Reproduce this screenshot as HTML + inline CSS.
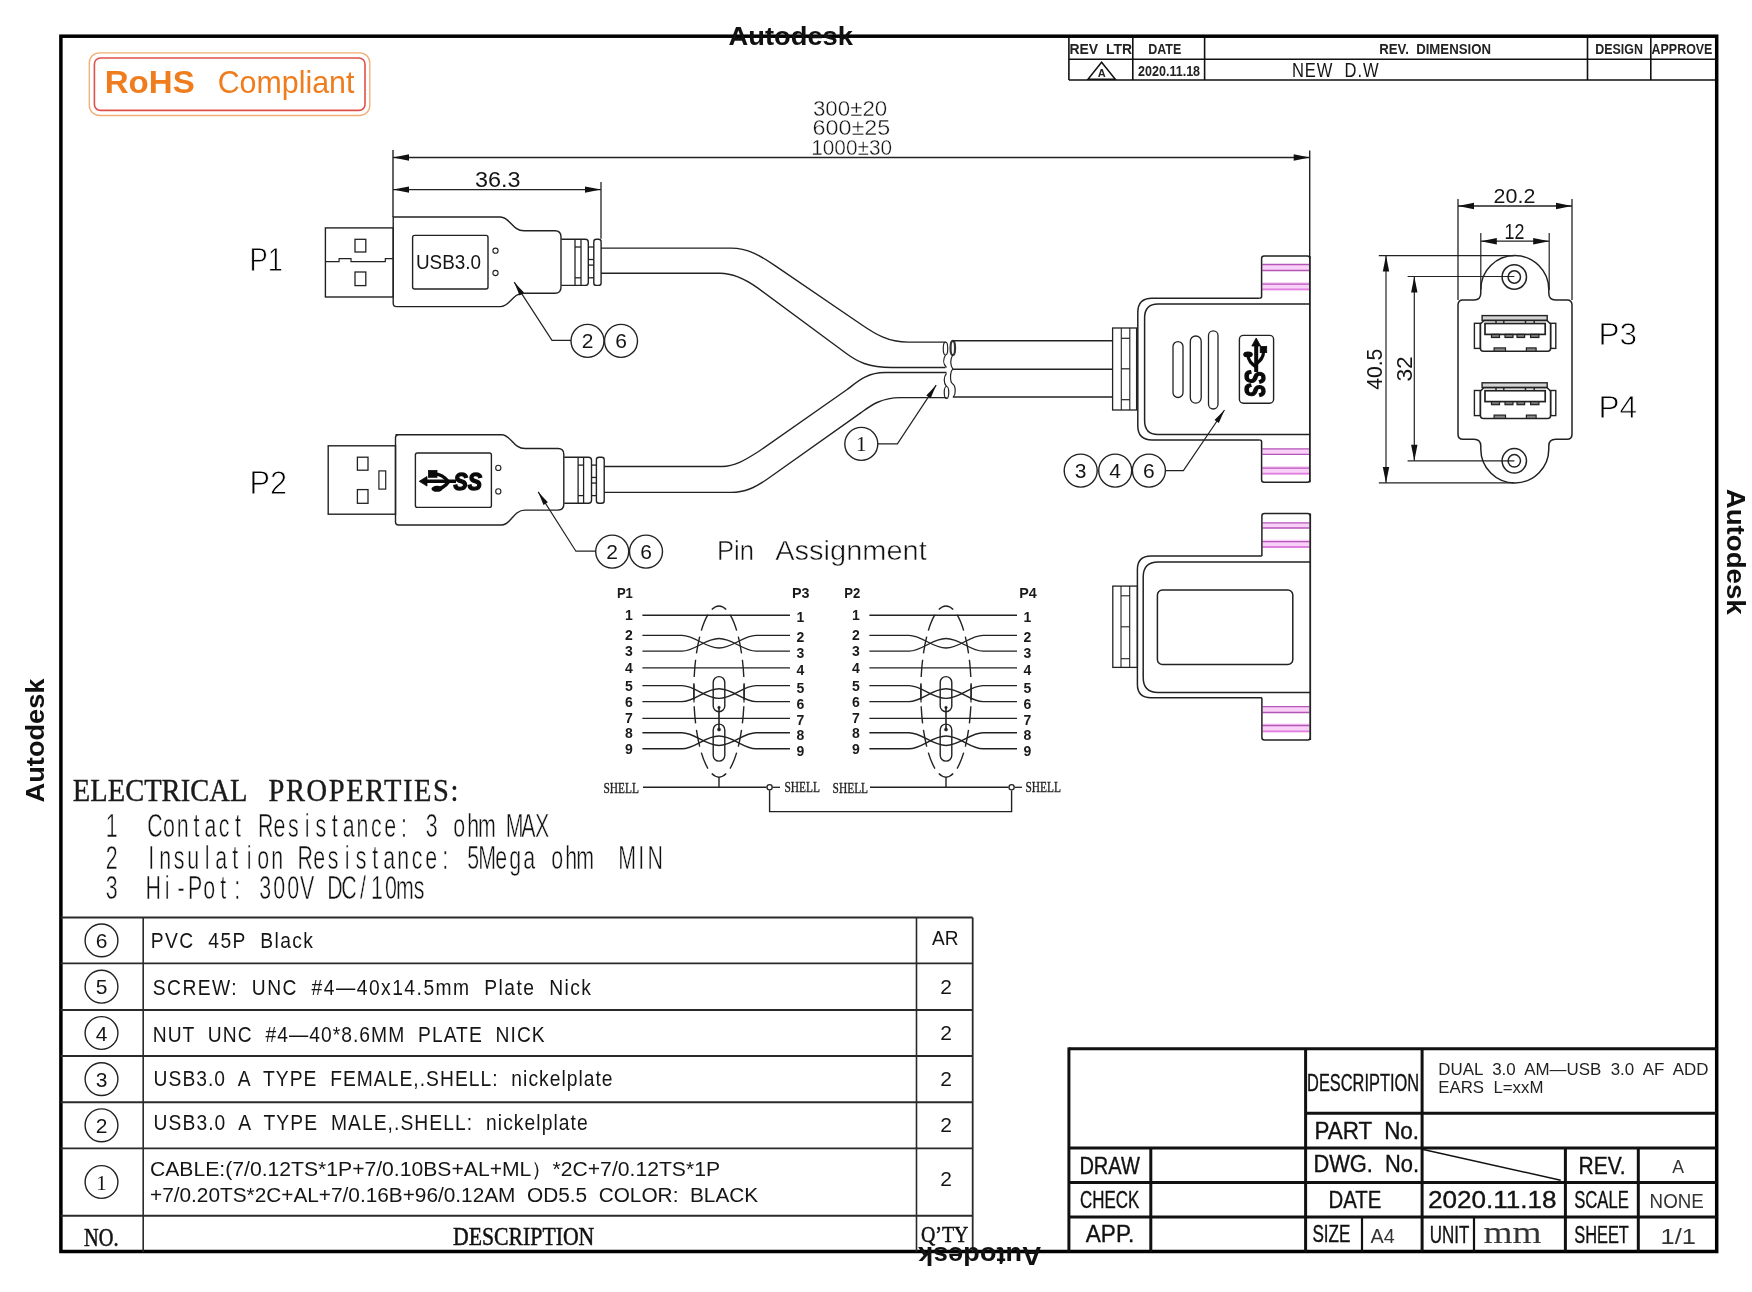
<!DOCTYPE html>
<html><head><meta charset="utf-8"><title>Drawing</title>
<style>html,body{margin:0;padding:0;background:#fff;} svg{display:block;filter:blur(0.3px);} text{white-space:pre;}</style>
</head><body>
<svg width="1752" height="1292" viewBox="0 0 1752 1292">
<rect x="0" y="0" width="1752" height="1292" fill="#fff"/>
<rect x="60.9" y="36.2" width="1655.8" height="1215.3" rx="0" stroke="#000" stroke-width="3.5" fill="none" />
<text x="728.5" y="45.4" style="font-family:&quot;Liberation Sans&quot;, sans-serif;font-size:26.7px;font-weight:bold" fill="#111" text-anchor="start" textLength="124.5" lengthAdjust="spacingAndGlyphs" >Autodesk</text>
<rect x="89.3" y="52.9" width="280.5" height="62.6" rx="10" stroke="#F2AE74" stroke-width="1.3" fill="none" />
<rect x="94.4" y="58" width="270.6" height="52.4" rx="6" stroke="#E0504A" stroke-width="1.6" fill="none" />
<text x="104.7" y="93" style="font-family:&quot;Liberation Sans&quot;, sans-serif;font-size:31.4px;font-weight:bold" fill="#EF7D1E" text-anchor="start" textLength="90" lengthAdjust="spacingAndGlyphs" >RoHS</text>
<text x="217.7" y="93" style="font-family:&quot;Liberation Sans&quot;, sans-serif;font-size:31.4px;font-weight:normal" fill="#EF7D1E" text-anchor="start" textLength="136.7" lengthAdjust="spacingAndGlyphs" >Compliant</text>
<line x1="1068.9" y1="37.3" x2="1068.9" y2="80" stroke="#111" stroke-width="1.6" />
<line x1="1132.8" y1="37.3" x2="1132.8" y2="80" stroke="#111" stroke-width="1.6" />
<line x1="1204.6" y1="37.3" x2="1204.6" y2="80" stroke="#111" stroke-width="1.6" />
<line x1="1587.5" y1="37.3" x2="1587.5" y2="80" stroke="#111" stroke-width="1.6" />
<line x1="1650.8" y1="37.3" x2="1650.8" y2="80" stroke="#111" stroke-width="1.6" />
<line x1="1068.9" y1="59.3" x2="1716.8" y2="59.3" stroke="#111" stroke-width="1.5" />
<line x1="1068.9" y1="80" x2="1716.8" y2="80" stroke="#111" stroke-width="1.6" />
<text x="1069.5" y="54" style="font-family:&quot;Liberation Sans&quot;, sans-serif;font-size:13.8px;font-weight:bold" fill="#222" text-anchor="start" textLength="62.5" lengthAdjust="spacingAndGlyphs" >REV  LTR</text>
<text x="1148.3" y="54" style="font-family:&quot;Liberation Sans&quot;, sans-serif;font-size:13.8px;font-weight:bold" fill="#222" text-anchor="start" textLength="33" lengthAdjust="spacingAndGlyphs" >DATE</text>
<text x="1379.2" y="53.6" style="font-family:&quot;Liberation Sans&quot;, sans-serif;font-size:13.8px;font-weight:bold" fill="#222" text-anchor="start" textLength="111.8" lengthAdjust="spacingAndGlyphs" >REV.  DIMENSION</text>
<text x="1595.3" y="53.6" style="font-family:&quot;Liberation Sans&quot;, sans-serif;font-size:13.8px;font-weight:bold" fill="#222" text-anchor="start" textLength="47.7" lengthAdjust="spacingAndGlyphs" >DESIGN</text>
<text x="1651.6" y="53.6" style="font-family:&quot;Liberation Sans&quot;, sans-serif;font-size:13.8px;font-weight:bold" fill="#222" text-anchor="start" textLength="60.8" lengthAdjust="spacingAndGlyphs" >APPROVE</text>
<path d="M1088,79.3 L1101.6,62.3 L1115.3,79.3 Z" stroke="#111" stroke-width="1.5" fill="none" />
<text x="1101.8" y="76.8" style="font-family:&quot;Liberation Sans&quot;, sans-serif;font-size:11px;font-weight:bold" fill="#222" text-anchor="middle" >A</text>
<text x="1138" y="75.8" style="font-family:&quot;Liberation Sans&quot;, sans-serif;font-size:13.8px;font-weight:bold" fill="#222" text-anchor="start" textLength="62.1" lengthAdjust="spacingAndGlyphs" >2020.11.18</text>
<text x="0" y="0" transform="translate(1291.9,76.6) scale(0.85,1)" style="font-family:&quot;Liberation Sans&quot;, sans-serif;font-size:19.5px;font-weight:normal" fill="#151515" textLength="102.00" lengthAdjust="spacing" >NEW  D.W</text>
<line x1="393" y1="157.5" x2="1309.7" y2="157.5" stroke="#222" stroke-width="1.3" />
<path d="M393.0,157.5 L409.0,154.3 L409.0,160.7 Z" fill="#111" stroke="none"/>
<path d="M1309.7,157.5 L1293.7,160.7 L1293.7,154.3 Z" fill="#111" stroke="none"/>
<line x1="393" y1="150" x2="393" y2="217" stroke="#222" stroke-width="1.4" />
<line x1="1309.7" y1="150.6" x2="1309.7" y2="256" stroke="#222" stroke-width="1.4" />
<line x1="393" y1="189.6" x2="601" y2="189.6" stroke="#222" stroke-width="1.3" />
<path d="M393.0,189.6 L409.0,186.4 L409.0,192.8 Z" fill="#111" stroke="none"/>
<path d="M601.0,189.6 L585.0,192.8 L585.0,186.4 Z" fill="#111" stroke="none"/>
<line x1="601" y1="182" x2="601" y2="238.8" stroke="#222" stroke-width="1.3" />
<text x="812.9" y="115.7" style="font-family:&quot;Liberation Sans&quot;, sans-serif;font-size:22px;font-weight:normal" fill="#151515" text-anchor="start" textLength="74.4" lengthAdjust="spacingAndGlyphs" stroke="#fff" stroke-width="0.4">300±20</text>
<text x="812.6" y="135.2" style="font-family:&quot;Liberation Sans&quot;, sans-serif;font-size:22px;font-weight:normal" fill="#151515" text-anchor="start" textLength="77.7" lengthAdjust="spacingAndGlyphs" stroke="#fff" stroke-width="0.4">600±25</text>
<text x="811.2" y="154.7" style="font-family:&quot;Liberation Sans&quot;, sans-serif;font-size:22px;font-weight:normal" fill="#151515" text-anchor="start" textLength="80.9" lengthAdjust="spacingAndGlyphs" stroke="#fff" stroke-width="0.4">1000±30</text>
<text x="475" y="187.2" style="font-family:&quot;Liberation Sans&quot;, sans-serif;font-size:22.5px;font-weight:normal" fill="#151515" text-anchor="start" textLength="45.5" lengthAdjust="spacingAndGlyphs" >36.3</text>
<text x="249.4" y="271.4" style="font-family:&quot;Liberation Sans&quot;, sans-serif;font-size:32.5px;font-weight:normal" fill="#000" text-anchor="start" textLength="33.5" lengthAdjust="spacingAndGlyphs" stroke="#fff" stroke-width="0.8">P1</text>
<rect x="325.4" y="227.9" width="67.8" height="69.1" rx="0" stroke="#222" stroke-width="1.4" fill="none" />
<path d="M325.4,261.6 L339.1,261.6 L339.1,258.7 L351,258.7 L351,261.6 L385.3,261.6 L385.3,258.7 L393.2,258.7" stroke="#222" stroke-width="1.2" fill="none" />
<rect x="355" y="239.3" width="10.8" height="12.7" rx="0" stroke="#222" stroke-width="1.3" fill="none" />
<rect x="355" y="272" width="10.8" height="13.6" rx="0" stroke="#222" stroke-width="1.3" fill="none" />
<path d="M393.2,217 L500.5,217 C510,217 512,230.8 524,230.8 L555,230.8 Q561,230.8 561,237 L561,287 Q561,293.2 555,293.2 L524,293.2 C512,293.2 510,306.6 500.5,306.6 L396.5,306.6 Q393.2,306.6 393.2,303.3 Z" stroke="#222" stroke-width="1.4" fill="none" />
<rect x="412.6" y="235.4" width="75.4" height="53.6" rx="2" stroke="#222" stroke-width="1.4" fill="none" />
<text x="416" y="268.5" style="font-family:&quot;Liberation Sans&quot;, sans-serif;font-size:20px;font-weight:normal" fill="#151515" text-anchor="start" textLength="65" lengthAdjust="spacingAndGlyphs" >USB3.0</text>
<circle cx="495.5" cy="250.7" r="2.6" stroke="#222" stroke-width="1.1" fill="none" />
<circle cx="495.5" cy="273" r="2.6" stroke="#222" stroke-width="1.1" fill="none" />
<path d="M561.3,239.2 L585.3,239.2 Q588.3,239.2 588.3,242.2 L588.3,282.4 Q588.3,285.4 585.3,285.4 L561.3,285.4" stroke="#222" stroke-width="1.4" fill="none" />
<line x1="575" y1="239.2" x2="575" y2="285.4" stroke="#222" stroke-width="1.3" />
<line x1="581" y1="239.2" x2="581" y2="285.4" stroke="#222" stroke-width="1.3" />
<line x1="575" y1="247.0" x2="581" y2="247.0" stroke="#222" stroke-width="1.3" />
<line x1="575" y1="277.79999999999995" x2="581" y2="277.79999999999995" stroke="#222" stroke-width="1.3" />
<line x1="588.3" y1="247.0" x2="593.8" y2="247.0" stroke="#222" stroke-width="1.3" />
<line x1="588.3" y1="259.49999999999994" x2="593.8" y2="259.49999999999994" stroke="#222" stroke-width="1.3" />
<line x1="588.3" y1="265.09999999999997" x2="593.8" y2="265.09999999999997" stroke="#222" stroke-width="1.3" />
<line x1="588.3" y1="277.79999999999995" x2="593.8" y2="277.79999999999995" stroke="#222" stroke-width="1.3" />
<rect x="593.8" y="239.2" width="7.300000000000068" height="46.19999999999999" rx="2.5" stroke="#222" stroke-width="1.4" fill="none" />
<path d="M514.2,282.2 L552,340.4 L571,340.4" stroke="#222" stroke-width="1.2" fill="none" />
<path d="M514.2,282.2 L524.0,292.5 L519.6,295.4 Z" fill="#111" stroke="none"/>
<circle cx="587.5" cy="340.9" r="16.5" stroke="#222" stroke-width="1.4" fill="none" />
<text x="587.5" y="348.46" style="font-family:&quot;Liberation Sans&quot;, sans-serif;font-size:21px;font-weight:normal" fill="#151515" text-anchor="middle" >2</text>
<circle cx="621" cy="340.9" r="16.5" stroke="#222" stroke-width="1.4" fill="none" />
<text x="621" y="348.46" style="font-family:&quot;Liberation Sans&quot;, sans-serif;font-size:21px;font-weight:normal" fill="#151515" text-anchor="middle" >6</text>
<text x="249.4" y="494.2" style="font-family:&quot;Liberation Sans&quot;, sans-serif;font-size:32.5px;font-weight:normal" fill="#000" text-anchor="start" textLength="37.6" lengthAdjust="spacingAndGlyphs" stroke="#fff" stroke-width="0.8">P2</text>
<rect x="328.2" y="445.8" width="67.3" height="68.4" rx="0" stroke="#222" stroke-width="1.4" fill="none" />
<rect x="357.4" y="457.2" width="10.6" height="13" rx="0" stroke="#222" stroke-width="1.3" fill="none" />
<rect x="357.4" y="489.6" width="10.6" height="13.7" rx="0" stroke="#222" stroke-width="1.3" fill="none" />
<rect x="378.9" y="470.9" width="6.8" height="18.2" rx="0" stroke="#222" stroke-width="1.2" fill="none" />
<path d="M395.5,434.8 L501.7,434.8 C511,434.8 513,448.5 525,448.5 L558,448.5 Q563.8,448.5 563.8,454.3 L563.8,504.3 Q563.8,510.1 558,510.1 L525,510.1 C513,510.1 511,525 501.7,525 L398.5,525 Q395.5,525 395.5,522 L395.5,437.8 Q395.5,434.8 398.5,434.8 Z" stroke="#222" stroke-width="1.4" fill="none" />
<rect x="415.4" y="453" width="76" height="54.4" rx="2" stroke="#222" stroke-width="1.4" fill="none" />
<path d="M423,481.3 L456,481.3" stroke="#0a0a0a" stroke-width="3.4" fill="none" />
<path d="M419.2,481.3 L427,476.5 L427,486.1 Z" stroke="#0a0a0a" stroke-width="0.8" fill="#0a0a0a" />
<path d="M448,481.3 C444,476 440,473.8 434,473.8" stroke="#0a0a0a" stroke-width="3.2" fill="none" />
<rect x="428.5" y="470.5" width="8.5" height="6.8" rx="0" stroke="#0a0a0a" stroke-width="0.8" fill="#0a0a0a" />
<path d="M449,481.3 C445,487 441,489 436,489" stroke="#0a0a0a" stroke-width="3.4" fill="none" />
<ellipse cx="437" cy="488.8" rx="5.5" ry="3" fill="#0a0a0a"/>
<text x="453.5" y="489.6" style="font-family:&quot;Liberation Sans&quot;, sans-serif;font-size:23px;font-weight:bold" fill="#0a0a0a" text-anchor="start" textLength="28.5" lengthAdjust="spacingAndGlyphs" font-style="italic" stroke="#0a0a0a" stroke-width="1.4">SS</text>
<circle cx="498.3" cy="467.9" r="2.6" stroke="#222" stroke-width="1.1" fill="none" />
<circle cx="498.3" cy="491.4" r="2.6" stroke="#222" stroke-width="1.1" fill="none" />
<path d="M564.2,457.3 L588.5,457.3 Q591.5,457.3 591.5,460.3 L591.5,500.2 Q591.5,503.2 588.5,503.2 L564.2,503.2" stroke="#222" stroke-width="1.4" fill="none" />
<line x1="578.1" y1="457.3" x2="578.1" y2="503.2" stroke="#222" stroke-width="1.3" />
<line x1="583.6" y1="457.3" x2="583.6" y2="503.2" stroke="#222" stroke-width="1.3" />
<line x1="578.1" y1="465.1" x2="583.6" y2="465.1" stroke="#222" stroke-width="1.3" />
<line x1="578.1" y1="495.59999999999997" x2="583.6" y2="495.59999999999997" stroke="#222" stroke-width="1.3" />
<line x1="591.5" y1="465.1" x2="596.4" y2="465.1" stroke="#222" stroke-width="1.3" />
<line x1="591.5" y1="477.45" x2="596.4" y2="477.45" stroke="#222" stroke-width="1.3" />
<line x1="591.5" y1="483.05" x2="596.4" y2="483.05" stroke="#222" stroke-width="1.3" />
<line x1="591.5" y1="495.59999999999997" x2="596.4" y2="495.59999999999997" stroke="#222" stroke-width="1.3" />
<rect x="596.4" y="457.3" width="7.800000000000068" height="45.89999999999998" rx="2.5" stroke="#222" stroke-width="1.4" fill="none" />
<path d="M538.2,491.9 L575.9,551.2 L595.5,551.2" stroke="#222" stroke-width="1.2" fill="none" />
<path d="M538.2,491.9 L547.9,502.3 L543.5,505.1 Z" fill="#111" stroke="none"/>
<circle cx="612.2" cy="551.6" r="16.5" stroke="#222" stroke-width="1.4" fill="none" />
<text x="612.2" y="559.16" style="font-family:&quot;Liberation Sans&quot;, sans-serif;font-size:21px;font-weight:normal" fill="#151515" text-anchor="middle" >2</text>
<circle cx="646" cy="551.6" r="16.5" stroke="#222" stroke-width="1.4" fill="none" />
<text x="646" y="559.16" style="font-family:&quot;Liberation Sans&quot;, sans-serif;font-size:21px;font-weight:normal" fill="#151515" text-anchor="middle" >6</text>
<path d="M601,248.1 L731,248.1 C748,248.1 760,255.4 775,265.6 L862,325 C875,333.9 888,342.1 908,342.1 L945.5,342.1" stroke="#222" stroke-width="1.4" fill="none" />
<path d="M601,273.3 L720,273.3 C733,273.3 745,279 757.6,287.9 L846.7,353.8 C857,361.4 868,367.5 892,367.5 L945.5,367.5" stroke="#222" stroke-width="1.4" fill="none" />
<path d="M604,466.5 L722,466.5 C735,466.5 745,460 758.6,451.5 L846.8,389.7 C855,384 865,372.5 885,372.5 L946.5,372.5" stroke="#222" stroke-width="1.4" fill="none" />
<path d="M604,492.4 L731,492.4 C745,492.4 755,487.5 766,480 L860.7,412.9 C869,407 880,397.6 900,397.6 L946.5,397.6" stroke="#222" stroke-width="1.4" fill="none" />
<path d="M877.8,443.9 L897.4,443.9 L936.2,385.1" stroke="#222" stroke-width="1.2" fill="none" />
<path d="M936.2,385.1 L930.7,398.2 L926.3,395.4 Z" fill="#111" stroke="none"/>
<circle cx="861.3" cy="443.9" r="16.5" stroke="#222" stroke-width="1.4" fill="none" />
<text x="861.3" y="451.46" style="font-family:&quot;Liberation Serif&quot;, serif;font-size:21px;font-weight:normal" fill="#151515" text-anchor="middle" >1</text>
<path d="M945.5,342.1 C948.5,342.1 948.5,355 945.5,355 C942.5,355 942.5,342.1 945.5,342.1 M945.5,355 C943,359 943,364 946.5,367.5" stroke="#222" stroke-width="1.2" fill="none" />
<path d="M946.5,373.4 C943.5,377 943.5,383 946.5,386.5 C949.5,386.5 949.5,398.4 946.5,398.4 C943.5,398.4 943.5,386.5 946.5,386.5" stroke="#222" stroke-width="1.2" fill="none" />
<path d="M952.8,340.8 C955.8,340.8 955.8,355 952.8,355 C949.8,355 949.8,340.8 952.8,340.8" stroke="#333" stroke-width="2.2" fill="none" />
<path d="M952.8,355 C950,359 950,365 953,369.3 C950,371 949.5,382 952.8,384 C955.8,386 956,394 953.5,396.9" stroke="#222" stroke-width="1.2" fill="none" />
<line x1="952.8" y1="340.7" x2="1112.6" y2="340.7" stroke="#222" stroke-width="1.4" />
<line x1="952.8" y1="369.2" x2="1112.6" y2="369.2" stroke="#222" stroke-width="1.4" />
<line x1="952.8" y1="397" x2="1112.6" y2="397" stroke="#222" stroke-width="1.4" />
<rect x="1112.6" y="328" width="24" height="82" rx="0" stroke="#222" stroke-width="1.3" fill="none" />
<line x1="1121.3" y1="328" x2="1121.3" y2="410" stroke="#222" stroke-width="1.1" />
<line x1="1129.8" y1="328" x2="1129.8" y2="410" stroke="#222" stroke-width="1.1" />
<line x1="1121.3" y1="338.3" x2="1129.8" y2="338.3" stroke="#222" stroke-width="1.2" />
<line x1="1121.3" y1="368.8" x2="1129.8" y2="368.8" stroke="#222" stroke-width="1.2" />
<line x1="1121.3" y1="399.7" x2="1129.8" y2="399.7" stroke="#222" stroke-width="1.2" />
<rect x="1262.3" y="264.5" width="47.200000000000045" height="6.0" fill="#F9D0F7"/>
<rect x="1262.3" y="282.1" width="47.200000000000045" height="8.299999999999955" fill="#F9D0F7"/>
<line x1="1262.3" y1="264.5" x2="1309.5" y2="264.5" stroke="#B455B8" stroke-width="1.3" />
<line x1="1262.3" y1="270.5" x2="1309.5" y2="270.5" stroke="#B455B8" stroke-width="1.3" />
<line x1="1262.3" y1="284.1" x2="1309.5" y2="284.1" stroke="#B455B8" stroke-width="1.3" />
<line x1="1262.3" y1="289.4" x2="1309.5" y2="289.4" stroke="#E07FE0" stroke-width="1.8" />
<rect x="1262.3" y="448.8" width="47.200000000000045" height="5.599999999999966" fill="#F9D0F7"/>
<rect x="1262.3" y="466.1" width="47.200000000000045" height="8.599999999999966" fill="#F9D0F7"/>
<line x1="1262.3" y1="448.8" x2="1309.5" y2="448.8" stroke="#B455B8" stroke-width="1.3" />
<line x1="1262.3" y1="454.4" x2="1309.5" y2="454.4" stroke="#B455B8" stroke-width="1.3" />
<line x1="1262.3" y1="468.1" x2="1309.5" y2="468.1" stroke="#B455B8" stroke-width="1.3" />
<line x1="1262.3" y1="473.7" x2="1309.5" y2="473.7" stroke="#E07FE0" stroke-width="1.8" />
<path d="M1259.6,298.2 Q1261.6,298.2 1261.6,296.2 L1261.6,258.5 Q1261.6,256 1264.1,256 L1307.4,256 Q1309.9,256 1309.9,258.5" stroke="#222" stroke-width="1.5" fill="none" />
<path d="M1259.6,440 Q1261.6,440 1261.6,442 L1261.6,479.8 Q1261.6,482.3 1264.1,482.3 L1307.4,482.3 Q1309.9,482.3 1309.9,479.8" stroke="#222" stroke-width="1.5" fill="none" />
<path d="M1259.6,298.2 L1152,298.2 Q1137.8,298.2 1137.8,312.4 L1137.8,425.8 Q1137.8,440 1152,440 L1259.6,440" stroke="#222" stroke-width="1.5" fill="none" />
<line x1="1309.9" y1="256" x2="1309.9" y2="482.3" stroke="#222" stroke-width="1.8" />
<path d="M1309.9,304 L1158,304 Q1144.6,304 1144.6,318 L1144.6,420.4 Q1144.6,434.4 1158,434.4 L1309.9,434.4" stroke="#222" stroke-width="1.5" fill="none" />
<rect x="1173" y="341.6" width="10" height="55.9" rx="5" stroke="#222" stroke-width="1.3" fill="none" />
<rect x="1190.3" y="336" width="10.9" height="67.2" rx="5.4" stroke="#222" stroke-width="1.3" fill="none" />
<rect x="1208.5" y="330.9" width="9.5" height="78.1" rx="4.7" stroke="#222" stroke-width="1.3" fill="none" />
<rect x="1239.4" y="335.4" width="34.2" height="67.8" rx="4" stroke="#222" stroke-width="1.4" fill="none" />
<path d="M1256.2,343 L1256.2,372" stroke="#0a0a0a" stroke-width="4" fill="none" />
<path d="M1256.2,338 L1251.8,346 L1260.6,346 Z" stroke="#0a0a0a" stroke-width="0.8" fill="#0a0a0a" />
<rect x="1260.2" y="346.4" width="6.5" height="6.2" rx="0" stroke="#0a0a0a" stroke-width="0.8" fill="#0a0a0a" />
<path d="M1263.5,352 C1263.5,358 1260,361 1256.2,364" stroke="#0a0a0a" stroke-width="3.2" fill="none" />
<ellipse cx="1248" cy="354.5" rx="4.8" ry="3" fill="#0a0a0a"/>
<path d="M1248,355 C1248,361 1252,364 1256.2,367" stroke="#0a0a0a" stroke-width="3.2" fill="none" />
<text x="0" y="0" transform="translate(1245.3,370.3) rotate(90)" style="font-family:&quot;Liberation Sans&quot;;font-size:29px;font-weight:bold;font-style:italic" fill="#0a0a0a" stroke="#0a0a0a" stroke-width="1.4" textLength="26.6" lengthAdjust="spacingAndGlyphs">SS</text>
<path d="M1224.5,410 L1183.4,470.6 L1165,470.6" stroke="#222" stroke-width="1.2" fill="none" />
<path d="M1224.5,410.0 L1218.8,423.0 L1214.5,420.1 Z" fill="#111" stroke="none"/>
<circle cx="1080.7" cy="470.6" r="16.5" stroke="#222" stroke-width="1.4" fill="none" />
<text x="1080.7" y="478.16" style="font-family:&quot;Liberation Sans&quot;, sans-serif;font-size:21px;font-weight:normal" fill="#151515" text-anchor="middle" >3</text>
<circle cx="1115.2" cy="470.6" r="16.5" stroke="#222" stroke-width="1.4" fill="none" />
<text x="1115.2" y="478.16" style="font-family:&quot;Liberation Sans&quot;, sans-serif;font-size:21px;font-weight:normal" fill="#151515" text-anchor="middle" >4</text>
<circle cx="1148.9" cy="470.6" r="16.5" stroke="#222" stroke-width="1.4" fill="none" />
<text x="1148.9" y="478.16" style="font-family:&quot;Liberation Sans&quot;, sans-serif;font-size:21px;font-weight:normal" fill="#151515" text-anchor="middle" >6</text>
<rect x="1112.8" y="586.1" width="24.6" height="81.3" rx="0" stroke="#222" stroke-width="1.3" fill="none" />
<line x1="1121" y1="586.1" x2="1121" y2="667.4" stroke="#222" stroke-width="1.1" />
<line x1="1129.7" y1="586.1" x2="1129.7" y2="667.4" stroke="#222" stroke-width="1.1" />
<line x1="1121" y1="595.8" x2="1129.7" y2="595.8" stroke="#222" stroke-width="1.1" />
<line x1="1121" y1="626.8" x2="1129.7" y2="626.8" stroke="#222" stroke-width="1.1" />
<line x1="1121" y1="658.7" x2="1129.7" y2="658.7" stroke="#222" stroke-width="1.1" />
<rect x="1262.5" y="522.8" width="47.0" height="5.2000000000000455" fill="#F9D0F7"/>
<rect x="1262.5" y="539.6" width="47.0" height="8.399999999999977" fill="#F9D0F7"/>
<line x1="1262.5" y1="522.8" x2="1309.5" y2="522.8" stroke="#B455B8" stroke-width="1.3" />
<line x1="1262.5" y1="528" x2="1309.5" y2="528" stroke="#B455B8" stroke-width="1.3" />
<line x1="1262.5" y1="541.6" x2="1309.5" y2="541.6" stroke="#B455B8" stroke-width="1.3" />
<line x1="1262.5" y1="547" x2="1309.5" y2="547" stroke="#E07FE0" stroke-width="1.8" />
<rect x="1262.5" y="706.7" width="47.0" height="5.7999999999999545" fill="#F9D0F7"/>
<rect x="1262.5" y="723.5" width="47.0" height="8.799999999999955" fill="#F9D0F7"/>
<line x1="1262.5" y1="706.7" x2="1309.5" y2="706.7" stroke="#B455B8" stroke-width="1.3" />
<line x1="1262.5" y1="712.5" x2="1309.5" y2="712.5" stroke="#B455B8" stroke-width="1.3" />
<line x1="1262.5" y1="725.5" x2="1309.5" y2="725.5" stroke="#B455B8" stroke-width="1.3" />
<line x1="1262.5" y1="731.3" x2="1309.5" y2="731.3" stroke="#E07FE0" stroke-width="1.8" />
<path d="M1261.9,556.1 L1151,556.1 Q1137.4,556.1 1137.4,569.6 L1137.4,684.3 Q1137.4,697.8 1151,697.8 L1261.9,697.8" stroke="#222" stroke-width="1.5" fill="none" />
<path d="M1261.9,556.1 L1261.9,516 Q1261.9,513.5 1264.4,513.5 L1307.7,513.5 Q1310.2,513.5 1310.2,516" stroke="#222" stroke-width="1.5" fill="none" />
<path d="M1261.9,697.8 L1261.9,737.5 Q1261.9,740 1264.4,740 L1307.7,740 Q1310.2,740 1310.2,737.5" stroke="#222" stroke-width="1.5" fill="none" />
<line x1="1310.2" y1="513.5" x2="1310.2" y2="740" stroke="#222" stroke-width="1.8" />
<path d="M1310.2,562 L1158,562 Q1143.2,562 1143.2,577 L1143.2,677.6 Q1143.2,692.6 1158,692.6 L1310.2,692.6" stroke="#222" stroke-width="1.5" fill="none" />
<rect x="1157.4" y="590" width="135.4" height="74.5" rx="5" stroke="#222" stroke-width="1.5" fill="none" />
<line x1="1458" y1="206" x2="1572" y2="206" stroke="#222" stroke-width="1.3" />
<path d="M1458.0,206.0 L1474.0,202.8 L1474.0,209.2 Z" fill="#111" stroke="none"/>
<path d="M1572.0,206.0 L1556.0,209.2 L1556.0,202.8 Z" fill="#111" stroke="none"/>
<line x1="1458" y1="199" x2="1458" y2="300" stroke="#222" stroke-width="1.3" />
<line x1="1572" y1="199" x2="1572" y2="300" stroke="#222" stroke-width="1.3" />
<text x="1493.6" y="203.4" style="font-family:&quot;Liberation Sans&quot;, sans-serif;font-size:21px;font-weight:normal" fill="#151515" text-anchor="start" textLength="41.7" lengthAdjust="spacingAndGlyphs" >20.2</text>
<line x1="1480.8" y1="241.2" x2="1549.2" y2="241.2" stroke="#222" stroke-width="1.2" />
<path d="M1480.8,241.2 L1496.8,238.0 L1496.8,244.4 Z" fill="#111" stroke="none"/>
<path d="M1549.2,241.2 L1533.2,244.4 L1533.2,238.0 Z" fill="#111" stroke="none"/>
<line x1="1480.8" y1="233" x2="1480.8" y2="290" stroke="#222" stroke-width="1.2" />
<line x1="1549.2" y1="233" x2="1549.2" y2="290" stroke="#222" stroke-width="1.2" />
<text x="1504.5" y="238.9" style="font-family:&quot;Liberation Sans&quot;, sans-serif;font-size:22px;font-weight:normal" fill="#151515" text-anchor="start" textLength="19.9" lengthAdjust="spacingAndGlyphs" >12</text>
<line x1="1386" y1="255.6" x2="1386" y2="482.9" stroke="#222" stroke-width="1.2" />
<path d="M1386.0,255.6 L1389.2,271.6 L1382.8,271.6 Z" fill="#111" stroke="none"/>
<path d="M1386.0,482.9 L1382.8,466.9 L1389.2,466.9 Z" fill="#111" stroke="none"/>
<line x1="1378.8" y1="255.6" x2="1514" y2="255.6" stroke="#222" stroke-width="1.2" />
<line x1="1378.8" y1="482.9" x2="1514" y2="482.9" stroke="#222" stroke-width="1.2" />
<line x1="1414.3" y1="276.5" x2="1414.3" y2="460.8" stroke="#222" stroke-width="1.2" />
<path d="M1414.3,276.5 L1417.5,292.5 L1411.1,292.5 Z" fill="#111" stroke="none"/>
<path d="M1414.3,460.8 L1411.1,444.8 L1417.5,444.8 Z" fill="#111" stroke="none"/>
<line x1="1407.6" y1="276.5" x2="1514.4" y2="276.5" stroke="#222" stroke-width="1.2" />
<line x1="1407.6" y1="460.8" x2="1514.4" y2="460.8" stroke="#222" stroke-width="1.2" />
<text x="0" y="0" transform="translate(1381.8,369.2) rotate(-90)" text-anchor="middle" style="font-family:&quot;Liberation Sans&quot;;font-size:21.8px" fill="#151515" textLength="41.2" lengthAdjust="spacingAndGlyphs">40.5</text>
<text x="0" y="0" transform="translate(1411.5,368.9) rotate(-90)" text-anchor="middle" style="font-family:&quot;Liberation Sans&quot;;font-size:21.5px" fill="#151515" textLength="25.3" lengthAdjust="spacingAndGlyphs">32</text>
<path d="M1463,300 L1474,300 Q1480.8,300 1480.8,293 L1480.8,289.6 A34,34 0 0 1 1548.8,289.6 L1548.8,293 Q1548.8,300 1555.6,300 L1567,300 Q1572,300 1572,305 L1572,434.2 Q1572,439.2 1567,439.2 L1555.6,439.2 Q1548.8,439.2 1548.8,446 L1548.8,448.9 A34,34 0 0 1 1480.8,448.9 L1480.8,446 Q1480.8,439.2 1474,439.2 L1463,439.2 Q1458,439.2 1458,434.2 L1458,305 Q1458,300 1463,300 Z" stroke="#222" stroke-width="1.5" fill="none" />
<circle cx="1514.3" cy="277" r="12.2" stroke="#222" stroke-width="1.5" fill="none" />
<circle cx="1514.3" cy="277" r="6.2" stroke="#222" stroke-width="1.5" fill="none" />
<circle cx="1514.3" cy="460.8" r="12.2" stroke="#222" stroke-width="1.5" fill="none" />
<circle cx="1514.3" cy="460.8" r="6.2" stroke="#222" stroke-width="1.5" fill="none" />
<rect x="1482.1" y="315.6" width="65.1" height="4.8" rx="0" stroke="#222" stroke-width="1.4" fill="#d4d4d4" />
<path d="M1484,320.40000000000003 L1547,320.40000000000003 L1550.6,324.1 L1550.6,348.20000000000005 Q1550.6,351.20000000000005 1547.6,351.20000000000005 L1483.4,351.20000000000005 Q1480.4,351.20000000000005 1480.4,348.20000000000005 L1480.4,324.1 Z" stroke="#222" stroke-width="1.5" fill="none" />
<rect x="1474.4" y="323.3" width="6" height="25.1" rx="0" stroke="#222" stroke-width="1.4" fill="none" />
<rect x="1550.6" y="323.3" width="5.2" height="25.1" rx="0" stroke="#222" stroke-width="1.4" fill="none" />
<rect x="1485" y="323.5" width="60.2" height="10.9" rx="0" stroke="#222" stroke-width="1.7" fill="none" />
<rect x="1491.5" y="334.40000000000003" width="8" height="3.1" rx="0" stroke="#222" stroke-width="1.2" fill="#777" />
<rect x="1505" y="334.40000000000003" width="8" height="3.1" rx="0" stroke="#222" stroke-width="1.2" fill="#777" />
<rect x="1517" y="334.40000000000003" width="7.6" height="3.1" rx="0" stroke="#222" stroke-width="1.2" fill="#777" />
<rect x="1530.6" y="334.40000000000003" width="8.3" height="3.1" rx="0" stroke="#222" stroke-width="1.2" fill="#777" />
<line x1="1496" y1="320.40000000000003" x2="1496" y2="323.5" stroke="#222" stroke-width="1.4" />
<line x1="1503.8" y1="320.40000000000003" x2="1503.8" y2="323.5" stroke="#222" stroke-width="1.4" />
<line x1="1525.5" y1="320.40000000000003" x2="1525.5" y2="323.5" stroke="#222" stroke-width="1.4" />
<line x1="1534.2" y1="320.40000000000003" x2="1534.2" y2="323.5" stroke="#222" stroke-width="1.4" />
<rect x="1494.1" y="347.90000000000003" width="11.4" height="3.3" rx="0" stroke="#222" stroke-width="1.2" fill="#888" />
<rect x="1526.4" y="347.90000000000003" width="9.7" height="3.3" rx="0" stroke="#222" stroke-width="1.2" fill="#888" />
<rect x="1482.1" y="382.8" width="65.1" height="4.8" rx="0" stroke="#222" stroke-width="1.4" fill="#d4d4d4" />
<path d="M1484,387.6 L1547,387.6 L1550.6,391.3 L1550.6,415.40000000000003 Q1550.6,418.40000000000003 1547.6,418.40000000000003 L1483.4,418.40000000000003 Q1480.4,418.40000000000003 1480.4,415.40000000000003 L1480.4,391.3 Z" stroke="#222" stroke-width="1.5" fill="none" />
<rect x="1474.4" y="390.5" width="6" height="25.1" rx="0" stroke="#222" stroke-width="1.4" fill="none" />
<rect x="1550.6" y="390.5" width="5.2" height="25.1" rx="0" stroke="#222" stroke-width="1.4" fill="none" />
<rect x="1485" y="390.7" width="60.2" height="10.9" rx="0" stroke="#222" stroke-width="1.7" fill="none" />
<rect x="1491.5" y="401.6" width="8" height="3.1" rx="0" stroke="#222" stroke-width="1.2" fill="#777" />
<rect x="1505" y="401.6" width="8" height="3.1" rx="0" stroke="#222" stroke-width="1.2" fill="#777" />
<rect x="1517" y="401.6" width="7.6" height="3.1" rx="0" stroke="#222" stroke-width="1.2" fill="#777" />
<rect x="1530.6" y="401.6" width="8.3" height="3.1" rx="0" stroke="#222" stroke-width="1.2" fill="#777" />
<line x1="1496" y1="387.6" x2="1496" y2="390.7" stroke="#222" stroke-width="1.4" />
<line x1="1503.8" y1="387.6" x2="1503.8" y2="390.7" stroke="#222" stroke-width="1.4" />
<line x1="1525.5" y1="387.6" x2="1525.5" y2="390.7" stroke="#222" stroke-width="1.4" />
<line x1="1534.2" y1="387.6" x2="1534.2" y2="390.7" stroke="#222" stroke-width="1.4" />
<rect x="1494.1" y="415.1" width="11.4" height="3.3" rx="0" stroke="#222" stroke-width="1.2" fill="#888" />
<rect x="1526.4" y="415.1" width="9.7" height="3.3" rx="0" stroke="#222" stroke-width="1.2" fill="#888" />
<text x="1598.4" y="344.6" style="font-family:&quot;Liberation Sans&quot;, sans-serif;font-size:32px;font-weight:normal" fill="#000" text-anchor="start" textLength="38.6" lengthAdjust="spacingAndGlyphs" stroke="#fff" stroke-width="0.8">P3</text>
<text x="1598.4" y="417.8" style="font-family:&quot;Liberation Sans&quot;, sans-serif;font-size:32px;font-weight:normal" fill="#000" text-anchor="start" textLength="38.6" lengthAdjust="spacingAndGlyphs" stroke="#fff" stroke-width="0.8">P4</text>
<text x="717" y="559.6" style="font-family:&quot;Liberation Sans&quot;, sans-serif;font-size:27px;font-weight:normal" fill="#111" text-anchor="start" textLength="37" lengthAdjust="spacingAndGlyphs" stroke="#fff" stroke-width="0.5">Pin</text>
<text x="775.3" y="559.6" style="font-family:&quot;Liberation Sans&quot;, sans-serif;font-size:27px;font-weight:normal" fill="#111" text-anchor="start" textLength="151.4" lengthAdjust="spacingAndGlyphs" stroke="#fff" stroke-width="0.5">Assignment</text>
<text x="616.9" y="597.8" style="font-family:&quot;Liberation Sans&quot;, sans-serif;font-size:14.5px;font-weight:bold" fill="#1a1a1a" text-anchor="start" textLength="16" lengthAdjust="spacingAndGlyphs" >P1</text>
<text x="792" y="597.8" style="font-family:&quot;Liberation Sans&quot;, sans-serif;font-size:14.5px;font-weight:bold" fill="#1a1a1a" text-anchor="start" textLength="17.5" lengthAdjust="spacingAndGlyphs" >P3</text>
<text x="628.8" y="620.3" style="font-family:&quot;Liberation Sans&quot;, sans-serif;font-size:14px;font-weight:bold" fill="#1a1a1a" text-anchor="middle" >1</text>
<text x="800.5" y="622.3" style="font-family:&quot;Liberation Sans&quot;, sans-serif;font-size:14px;font-weight:bold" fill="#1a1a1a" text-anchor="middle" >1</text>
<text x="628.8" y="640.4" style="font-family:&quot;Liberation Sans&quot;, sans-serif;font-size:14px;font-weight:bold" fill="#1a1a1a" text-anchor="middle" >2</text>
<text x="800.5" y="642.4" style="font-family:&quot;Liberation Sans&quot;, sans-serif;font-size:14px;font-weight:bold" fill="#1a1a1a" text-anchor="middle" >2</text>
<text x="628.8" y="656.1" style="font-family:&quot;Liberation Sans&quot;, sans-serif;font-size:14px;font-weight:bold" fill="#1a1a1a" text-anchor="middle" >3</text>
<text x="800.5" y="658.1" style="font-family:&quot;Liberation Sans&quot;, sans-serif;font-size:14px;font-weight:bold" fill="#1a1a1a" text-anchor="middle" >3</text>
<text x="628.8" y="672.9" style="font-family:&quot;Liberation Sans&quot;, sans-serif;font-size:14px;font-weight:bold" fill="#1a1a1a" text-anchor="middle" >4</text>
<text x="800.5" y="674.9" style="font-family:&quot;Liberation Sans&quot;, sans-serif;font-size:14px;font-weight:bold" fill="#1a1a1a" text-anchor="middle" >4</text>
<text x="628.8" y="690.6" style="font-family:&quot;Liberation Sans&quot;, sans-serif;font-size:14px;font-weight:bold" fill="#1a1a1a" text-anchor="middle" >5</text>
<text x="800.5" y="692.6" style="font-family:&quot;Liberation Sans&quot;, sans-serif;font-size:14px;font-weight:bold" fill="#1a1a1a" text-anchor="middle" >5</text>
<text x="628.8" y="706.6" style="font-family:&quot;Liberation Sans&quot;, sans-serif;font-size:14px;font-weight:bold" fill="#1a1a1a" text-anchor="middle" >6</text>
<text x="800.5" y="708.6" style="font-family:&quot;Liberation Sans&quot;, sans-serif;font-size:14px;font-weight:bold" fill="#1a1a1a" text-anchor="middle" >6</text>
<text x="628.8" y="723.4" style="font-family:&quot;Liberation Sans&quot;, sans-serif;font-size:14px;font-weight:bold" fill="#1a1a1a" text-anchor="middle" >7</text>
<text x="800.5" y="725.4" style="font-family:&quot;Liberation Sans&quot;, sans-serif;font-size:14px;font-weight:bold" fill="#1a1a1a" text-anchor="middle" >7</text>
<text x="628.8" y="737.8" style="font-family:&quot;Liberation Sans&quot;, sans-serif;font-size:14px;font-weight:bold" fill="#1a1a1a" text-anchor="middle" >8</text>
<text x="800.5" y="739.8" style="font-family:&quot;Liberation Sans&quot;, sans-serif;font-size:14px;font-weight:bold" fill="#1a1a1a" text-anchor="middle" >8</text>
<text x="628.8" y="753.7" style="font-family:&quot;Liberation Sans&quot;, sans-serif;font-size:14px;font-weight:bold" fill="#1a1a1a" text-anchor="middle" >9</text>
<text x="800.5" y="755.7" style="font-family:&quot;Liberation Sans&quot;, sans-serif;font-size:14px;font-weight:bold" fill="#1a1a1a" text-anchor="middle" >9</text>
<line x1="642.4" y1="615.3" x2="790" y2="615.3" stroke="#222" stroke-width="1.4" />
<line x1="642.4" y1="667.9" x2="790" y2="667.9" stroke="#222" stroke-width="1.4" />
<line x1="642.4" y1="718.4" x2="790" y2="718.4" stroke="#222" stroke-width="1.4" />
<path d="M642.4,635.4 L682,635.4 C695,635.4 705,647.96 719,647.96 C733,647.96 743,635.4 756,635.4 L790,635.4" stroke="#222" stroke-width="1.4" fill="none" />
<path d="M642.4,651.1 L682,651.1 C695,651.1 705,638.54 719,638.54 C733,638.54 743,651.1 756,651.1 L790,651.1" stroke="#222" stroke-width="1.4" fill="none" />
<path d="M642.4,685.6 L682,685.6 C695,685.6 705,698.4 719,698.4 C733,698.4 743,685.6 756,685.6 L790,685.6" stroke="#222" stroke-width="1.4" fill="none" />
<path d="M642.4,701.6 L682,701.6 C695,701.6 705,688.8000000000001 719,688.8000000000001 C733,688.8000000000001 743,701.6 756,701.6 L790,701.6" stroke="#222" stroke-width="1.4" fill="none" />
<path d="M642.4,732.8 L682,732.8 C695,732.8 705,745.52 719,745.52 C733,745.52 743,732.8 756,732.8 L790,732.8" stroke="#222" stroke-width="1.4" fill="none" />
<path d="M642.4,748.7 L682,748.7 C695,748.7 705,735.98 719,735.98 C733,735.98 743,748.7 756,748.7 L790,748.7" stroke="#222" stroke-width="1.4" fill="none" />
<line x1="694" y1="684.6" x2="694" y2="702.6" stroke="#222" stroke-width="1.2" />
<line x1="744" y1="684.6" x2="744" y2="702.6" stroke="#222" stroke-width="1.2" />
<path d="M719,777.2 A25.2,85.6 0 1 1 719,606 A25.2,85.6 0 1 1 719,777.2" pathLength="396" stroke="#222" stroke-width="1.4" fill="none" stroke-dasharray="18 6.75" stroke-dashoffset="9"/>
<rect x="713.2" y="676.6" width="11.6" height="35.2" rx="5.8" stroke="#222" stroke-width="1.4" fill="none" />
<rect x="713.2" y="724.1" width="11.6" height="37" rx="5.8" stroke="#222" stroke-width="1.4" fill="none" />
<line x1="719" y1="707.5" x2="719" y2="729.5" stroke="#222" stroke-width="1.6" />
<circle cx="719" cy="707.5" r="1.3" stroke="#222" stroke-width="0.5" fill="#222" />
<circle cx="719" cy="729.5" r="1.6" stroke="#222" stroke-width="0.5" fill="#222" />
<line x1="719" y1="777.2" x2="719" y2="787.3" stroke="#222" stroke-width="1.4" />
<line x1="643" y1="787.3" x2="766.6" y2="787.3" stroke="#222" stroke-width="1.4" />
<circle cx="769.6" cy="787.3" r="2.6" stroke="#222" stroke-width="1.3" fill="white" />
<line x1="772.6" y1="787.3" x2="780.0" y2="787.3" stroke="#222" stroke-width="1.3" />
<text x="603.4" y="793.3" style="font-family:&quot;Liberation Serif&quot;, serif;font-size:14.7px;font-weight:normal" fill="#222" text-anchor="start" textLength="35.5" lengthAdjust="spacingAndGlyphs" stroke="#222" stroke-width="0.35">SHELL</text>
<text x="784.5" y="791.6" style="font-family:&quot;Liberation Serif&quot;, serif;font-size:14.7px;font-weight:normal" fill="#222" text-anchor="start" textLength="35.5" lengthAdjust="spacingAndGlyphs" stroke="#222" stroke-width="0.35">SHELL</text>
<text x="844.2" y="597.8" style="font-family:&quot;Liberation Sans&quot;, sans-serif;font-size:14.5px;font-weight:bold" fill="#1a1a1a" text-anchor="start" textLength="16" lengthAdjust="spacingAndGlyphs" >P2</text>
<text x="1019.3" y="597.8" style="font-family:&quot;Liberation Sans&quot;, sans-serif;font-size:14.5px;font-weight:bold" fill="#1a1a1a" text-anchor="start" textLength="17.5" lengthAdjust="spacingAndGlyphs" >P4</text>
<text x="855.8" y="620.3" style="font-family:&quot;Liberation Sans&quot;, sans-serif;font-size:14px;font-weight:bold" fill="#1a1a1a" text-anchor="middle" >1</text>
<text x="1027.5" y="622.3" style="font-family:&quot;Liberation Sans&quot;, sans-serif;font-size:14px;font-weight:bold" fill="#1a1a1a" text-anchor="middle" >1</text>
<text x="855.8" y="640.4" style="font-family:&quot;Liberation Sans&quot;, sans-serif;font-size:14px;font-weight:bold" fill="#1a1a1a" text-anchor="middle" >2</text>
<text x="1027.5" y="642.4" style="font-family:&quot;Liberation Sans&quot;, sans-serif;font-size:14px;font-weight:bold" fill="#1a1a1a" text-anchor="middle" >2</text>
<text x="855.8" y="656.1" style="font-family:&quot;Liberation Sans&quot;, sans-serif;font-size:14px;font-weight:bold" fill="#1a1a1a" text-anchor="middle" >3</text>
<text x="1027.5" y="658.1" style="font-family:&quot;Liberation Sans&quot;, sans-serif;font-size:14px;font-weight:bold" fill="#1a1a1a" text-anchor="middle" >3</text>
<text x="855.8" y="672.9" style="font-family:&quot;Liberation Sans&quot;, sans-serif;font-size:14px;font-weight:bold" fill="#1a1a1a" text-anchor="middle" >4</text>
<text x="1027.5" y="674.9" style="font-family:&quot;Liberation Sans&quot;, sans-serif;font-size:14px;font-weight:bold" fill="#1a1a1a" text-anchor="middle" >4</text>
<text x="855.8" y="690.6" style="font-family:&quot;Liberation Sans&quot;, sans-serif;font-size:14px;font-weight:bold" fill="#1a1a1a" text-anchor="middle" >5</text>
<text x="1027.5" y="692.6" style="font-family:&quot;Liberation Sans&quot;, sans-serif;font-size:14px;font-weight:bold" fill="#1a1a1a" text-anchor="middle" >5</text>
<text x="855.8" y="706.6" style="font-family:&quot;Liberation Sans&quot;, sans-serif;font-size:14px;font-weight:bold" fill="#1a1a1a" text-anchor="middle" >6</text>
<text x="1027.5" y="708.6" style="font-family:&quot;Liberation Sans&quot;, sans-serif;font-size:14px;font-weight:bold" fill="#1a1a1a" text-anchor="middle" >6</text>
<text x="855.8" y="723.4" style="font-family:&quot;Liberation Sans&quot;, sans-serif;font-size:14px;font-weight:bold" fill="#1a1a1a" text-anchor="middle" >7</text>
<text x="1027.5" y="725.4" style="font-family:&quot;Liberation Sans&quot;, sans-serif;font-size:14px;font-weight:bold" fill="#1a1a1a" text-anchor="middle" >7</text>
<text x="855.8" y="737.8" style="font-family:&quot;Liberation Sans&quot;, sans-serif;font-size:14px;font-weight:bold" fill="#1a1a1a" text-anchor="middle" >8</text>
<text x="1027.5" y="739.8" style="font-family:&quot;Liberation Sans&quot;, sans-serif;font-size:14px;font-weight:bold" fill="#1a1a1a" text-anchor="middle" >8</text>
<text x="855.8" y="753.7" style="font-family:&quot;Liberation Sans&quot;, sans-serif;font-size:14px;font-weight:bold" fill="#1a1a1a" text-anchor="middle" >9</text>
<text x="1027.5" y="755.7" style="font-family:&quot;Liberation Sans&quot;, sans-serif;font-size:14px;font-weight:bold" fill="#1a1a1a" text-anchor="middle" >9</text>
<line x1="869.4" y1="615.3" x2="1017" y2="615.3" stroke="#222" stroke-width="1.4" />
<line x1="869.4" y1="667.9" x2="1017" y2="667.9" stroke="#222" stroke-width="1.4" />
<line x1="869.4" y1="718.4" x2="1017" y2="718.4" stroke="#222" stroke-width="1.4" />
<path d="M869.4,635.4 L909,635.4 C922,635.4 932,647.96 946,647.96 C960,647.96 970,635.4 983,635.4 L1017,635.4" stroke="#222" stroke-width="1.4" fill="none" />
<path d="M869.4,651.1 L909,651.1 C922,651.1 932,638.54 946,638.54 C960,638.54 970,651.1 983,651.1 L1017,651.1" stroke="#222" stroke-width="1.4" fill="none" />
<path d="M869.4,685.6 L909,685.6 C922,685.6 932,698.4 946,698.4 C960,698.4 970,685.6 983,685.6 L1017,685.6" stroke="#222" stroke-width="1.4" fill="none" />
<path d="M869.4,701.6 L909,701.6 C922,701.6 932,688.8000000000001 946,688.8000000000001 C960,688.8000000000001 970,701.6 983,701.6 L1017,701.6" stroke="#222" stroke-width="1.4" fill="none" />
<path d="M869.4,732.8 L909,732.8 C922,732.8 932,745.52 946,745.52 C960,745.52 970,732.8 983,732.8 L1017,732.8" stroke="#222" stroke-width="1.4" fill="none" />
<path d="M869.4,748.7 L909,748.7 C922,748.7 932,735.98 946,735.98 C960,735.98 970,748.7 983,748.7 L1017,748.7" stroke="#222" stroke-width="1.4" fill="none" />
<line x1="921" y1="684.6" x2="921" y2="702.6" stroke="#222" stroke-width="1.2" />
<line x1="971" y1="684.6" x2="971" y2="702.6" stroke="#222" stroke-width="1.2" />
<path d="M946,777.2 A25.2,85.6 0 1 1 946,606 A25.2,85.6 0 1 1 946,777.2" pathLength="396" stroke="#222" stroke-width="1.4" fill="none" stroke-dasharray="18 6.75" stroke-dashoffset="9"/>
<rect x="940.2" y="676.6" width="11.6" height="35.2" rx="5.8" stroke="#222" stroke-width="1.4" fill="none" />
<rect x="940.2" y="724.1" width="11.6" height="37" rx="5.8" stroke="#222" stroke-width="1.4" fill="none" />
<line x1="946" y1="707.5" x2="946" y2="729.5" stroke="#222" stroke-width="1.6" />
<circle cx="946" cy="707.5" r="1.3" stroke="#222" stroke-width="0.5" fill="#222" />
<circle cx="946" cy="729.5" r="1.6" stroke="#222" stroke-width="0.5" fill="#222" />
<line x1="946" y1="777.2" x2="946" y2="787.3" stroke="#222" stroke-width="1.4" />
<line x1="870" y1="787.3" x2="1008.6" y2="787.3" stroke="#222" stroke-width="1.4" />
<circle cx="1011.6" cy="787.3" r="2.6" stroke="#222" stroke-width="1.3" fill="white" />
<line x1="1014.6" y1="787.3" x2="1022.0" y2="787.3" stroke="#222" stroke-width="1.3" />
<text x="832.6" y="793.3" style="font-family:&quot;Liberation Serif&quot;, serif;font-size:14.7px;font-weight:normal" fill="#222" text-anchor="start" textLength="35.5" lengthAdjust="spacingAndGlyphs" stroke="#222" stroke-width="0.35">SHELL</text>
<text x="1025.5" y="791.6" style="font-family:&quot;Liberation Serif&quot;, serif;font-size:14.7px;font-weight:normal" fill="#222" text-anchor="start" textLength="35.5" lengthAdjust="spacingAndGlyphs" stroke="#222" stroke-width="0.35">SHELL</text>
<path d="M769.6,790.3 L769.6,811.6 L1011.6,811.6 L1011.6,790.6" stroke="#222" stroke-width="1.4" fill="none" />
<text x="0" y="0" transform="translate(72.8,801.2) scale(0.92,1)" style="font-family:&quot;Liberation Serif&quot;, serif;font-size:31px;font-weight:normal" fill="#1a1a1a" textLength="189.67" lengthAdjust="spacing" stroke="#1a1a1a" stroke-width="0.4">ELECTRICAL</text>
<text x="0" y="0" transform="translate(268.6,801.2) scale(0.92,1)" style="font-family:&quot;Liberation Serif&quot;, serif;font-size:31px;font-weight:normal" fill="#1a1a1a" textLength="206.30" lengthAdjust="spacing" stroke="#1a1a1a" stroke-width="0.4">PROPERTIES:</text>
<text x="10.61" y="0" transform="translate(104.6,837.4) scale(0.66,1)" text-anchor="middle" style="font-family:&quot;Liberation Sans&quot;, sans-serif;font-size:32.4px;font-weight:normal" fill="#111" stroke="#fff" stroke-width="0.5">1</text>
<text x="10.48 31.43 52.39 73.34 94.30 115.25 136.20 157.16 178.11 199.07 220.02 240.98 261.93 282.89 303.84 324.80 345.75 366.70 387.66 408.61 429.57 450.52 471.48 492.43 513.39 534.34 555.30 576.25 597.20" y="0" transform="translate(148.1,837.4) scale(0.66,1)" text-anchor="middle" style="font-family:&quot;Liberation Sans&quot;, sans-serif;font-size:32.4px;font-weight:normal" fill="#111" stroke="#fff" stroke-width="0.5">Contact Resistance: 3 ohm MAX</text>
<text x="10.61" y="0" transform="translate(104.6,869.2) scale(0.66,1)" text-anchor="middle" style="font-family:&quot;Liberation Sans&quot;, sans-serif;font-size:32.4px;font-weight:normal" fill="#111" stroke="#fff" stroke-width="0.5">2</text>
<text x="10.61 31.82 53.03 74.24 95.45 116.67 137.88 159.09 180.30 201.52 222.73 243.94 265.15 286.36 307.58 328.79 350.00 371.21 392.42 413.64 434.85 456.06 477.27 498.48 519.70 540.91 562.12 583.33 604.55 625.76 646.97 668.18 689.39 710.61 731.82 753.03 774.24" y="0" transform="translate(144.2,869.2) scale(0.66,1)" text-anchor="middle" style="font-family:&quot;Liberation Sans&quot;, sans-serif;font-size:32.4px;font-weight:normal" fill="#111" stroke="#fff" stroke-width="0.5">Insulation Resistance: 5Mega ohm  MIN</text>
<text x="10.61" y="0" transform="translate(104.6,899.2) scale(0.66,1)" text-anchor="middle" style="font-family:&quot;Liberation Sans&quot;, sans-serif;font-size:32.4px;font-weight:normal" fill="#111" stroke="#fff" stroke-width="0.5">3</text>
<text x="10.60 31.80 52.99 74.19 95.39 116.58 137.78 158.98 180.17 201.37 222.57 243.77 264.96 286.16 307.36 328.55 349.75 370.95 392.14 413.34" y="0" transform="translate(146.2,899.2) scale(0.66,1)" text-anchor="middle" style="font-family:&quot;Liberation Sans&quot;, sans-serif;font-size:32.4px;font-weight:normal" fill="#111" stroke="#fff" stroke-width="0.5">Hi-Pot: 300V DC/10ms</text>
<line x1="60.7" y1="917.5" x2="972.7" y2="917.5" stroke="#2a2a2a" stroke-width="1.8" />
<line x1="60.7" y1="963.4" x2="972.7" y2="963.4" stroke="#2a2a2a" stroke-width="1.8" />
<line x1="60.7" y1="1010" x2="972.7" y2="1010" stroke="#2a2a2a" stroke-width="2.2" />
<line x1="60.7" y1="1056" x2="972.7" y2="1056" stroke="#2a2a2a" stroke-width="1.8" />
<line x1="60.7" y1="1102.2" x2="972.7" y2="1102.2" stroke="#2a2a2a" stroke-width="2" />
<line x1="60.7" y1="1148.4" x2="972.7" y2="1148.4" stroke="#2a2a2a" stroke-width="1.8" />
<line x1="60.7" y1="1215.7" x2="972.7" y2="1215.7" stroke="#2a2a2a" stroke-width="2" />
<line x1="143.2" y1="917.5" x2="143.2" y2="1251.7" stroke="#2a2a2a" stroke-width="1.6" />
<line x1="916.5" y1="917.5" x2="916.5" y2="1251.7" stroke="#2a2a2a" stroke-width="1.6" />
<line x1="972.7" y1="917.5" x2="972.7" y2="1251.7" stroke="#2a2a2a" stroke-width="1.8" />
<circle cx="101.5" cy="940.4" r="16.4" stroke="#222" stroke-width="1.4" fill="none" />
<text x="101.5" y="947.9" style="font-family:&quot;Liberation Sans&quot;, sans-serif;font-size:21px;font-weight:normal" fill="#151515" text-anchor="middle" >6</text>
<circle cx="101.5" cy="986.7" r="16.4" stroke="#222" stroke-width="1.4" fill="none" />
<text x="101.5" y="994.2" style="font-family:&quot;Liberation Sans&quot;, sans-serif;font-size:21px;font-weight:normal" fill="#151515" text-anchor="middle" >5</text>
<circle cx="101.5" cy="1033" r="16.4" stroke="#222" stroke-width="1.4" fill="none" />
<text x="101.5" y="1040.5" style="font-family:&quot;Liberation Sans&quot;, sans-serif;font-size:21px;font-weight:normal" fill="#151515" text-anchor="middle" >4</text>
<circle cx="101.5" cy="1079.1" r="16.4" stroke="#222" stroke-width="1.4" fill="none" />
<text x="101.5" y="1086.6" style="font-family:&quot;Liberation Sans&quot;, sans-serif;font-size:21px;font-weight:normal" fill="#151515" text-anchor="middle" >3</text>
<circle cx="101.5" cy="1125.3" r="16.4" stroke="#222" stroke-width="1.4" fill="none" />
<text x="101.5" y="1132.8" style="font-family:&quot;Liberation Sans&quot;, sans-serif;font-size:21px;font-weight:normal" fill="#151515" text-anchor="middle" >2</text>
<circle cx="101.5" cy="1182" r="16.4" stroke="#222" stroke-width="1.4" fill="none" />
<text x="101.5" y="1189.5" style="font-family:&quot;Liberation Serif&quot;, serif;font-size:21px;font-weight:normal" fill="#151515" text-anchor="middle" >1</text>
<text x="0" y="0" transform="translate(150.8,947.5) scale(0.86,1)" style="font-family:&quot;Liberation Sans&quot;, sans-serif;font-size:22.4px;font-weight:normal" fill="#151515" textLength="188.60" lengthAdjust="spacing" >PVC  45P  Black</text>
<text x="0" y="0" transform="translate(152.7,994.9) scale(0.86,1)" style="font-family:&quot;Liberation Sans&quot;, sans-serif;font-size:22.4px;font-weight:normal" fill="#151515" textLength="509.65" lengthAdjust="spacing" >SCREW:  UNC  #4—40x14.5mm  Plate  Nick</text>
<text x="0" y="0" transform="translate(152.7,1042) scale(0.86,1)" style="font-family:&quot;Liberation Sans&quot;, sans-serif;font-size:22.4px;font-weight:normal" fill="#151515" textLength="455.81" lengthAdjust="spacing" >NUT  UNC  #4—40*8.6MM  PLATE  NICK</text>
<text x="0" y="0" transform="translate(153.6,1086.4) scale(0.86,1)" style="font-family:&quot;Liberation Sans&quot;, sans-serif;font-size:22.4px;font-weight:normal" fill="#151515" textLength="533.72" lengthAdjust="spacing" >USB3.0  A  TYPE  FEMALE,.SHELL:  nickelplate</text>
<text x="0" y="0" transform="translate(153.6,1130.3) scale(0.86,1)" style="font-family:&quot;Liberation Sans&quot;, sans-serif;font-size:22.4px;font-weight:normal" fill="#151515" textLength="504.77" lengthAdjust="spacing" >USB3.0  A  TYPE  MALE,.SHELL:  nickelplate</text>
<text x="150" y="1176" style="font-family:&quot;Liberation Sans&quot;, sans-serif;font-size:20px;font-weight:normal" fill="#151515" text-anchor="start" textLength="570" lengthAdjust="spacingAndGlyphs" >CABLE:(7/0.12TS*1P+7/0.10BS+AL+ML）*2C+7/0.12TS*1P</text>
<text x="150" y="1201.5" style="font-family:&quot;Liberation Sans&quot;, sans-serif;font-size:20px;font-weight:normal" fill="#151515" text-anchor="start" textLength="608.2" lengthAdjust="spacingAndGlyphs" >+7/0.20TS*2C+AL+7/0.16B+96/0.12AM  OD5.5  COLOR:  BLACK</text>
<text x="84" y="1245.5" style="font-family:&quot;Liberation Serif&quot;, serif;font-size:24.5px;font-weight:normal" fill="#111" text-anchor="start" textLength="34.5" lengthAdjust="spacingAndGlyphs" stroke="#111" stroke-width="0.5">NO.</text>
<text x="453" y="1244.7" style="font-family:&quot;Liberation Serif&quot;, serif;font-size:24.5px;font-weight:normal" fill="#111" text-anchor="start" textLength="141.3" lengthAdjust="spacingAndGlyphs" stroke="#111" stroke-width="0.5">DESCRIPTION</text>
<text x="921" y="1242" style="font-family:&quot;Liberation Serif&quot;, serif;font-size:23px;font-weight:normal" fill="#111" text-anchor="start" textLength="47.4" lengthAdjust="spacingAndGlyphs" stroke="#111" stroke-width="0.5">Q’TY</text>
<text x="932" y="945.4" style="font-family:&quot;Liberation Sans&quot;, sans-serif;font-size:20px;font-weight:normal" fill="#151515" text-anchor="start" textLength="26.5" lengthAdjust="spacingAndGlyphs" >AR</text>
<text x="946.2" y="993.7" style="font-family:&quot;Liberation Sans&quot;, sans-serif;font-size:21px;font-weight:normal" fill="#151515" text-anchor="middle" >2</text>
<text x="946.2" y="1040.2" style="font-family:&quot;Liberation Sans&quot;, sans-serif;font-size:21px;font-weight:normal" fill="#151515" text-anchor="middle" >2</text>
<text x="946.2" y="1086.3" style="font-family:&quot;Liberation Sans&quot;, sans-serif;font-size:21px;font-weight:normal" fill="#151515" text-anchor="middle" >2</text>
<text x="946.2" y="1132.4" style="font-family:&quot;Liberation Sans&quot;, sans-serif;font-size:21px;font-weight:normal" fill="#151515" text-anchor="middle" >2</text>
<text x="946.2" y="1185.8" style="font-family:&quot;Liberation Sans&quot;, sans-serif;font-size:21px;font-weight:normal" fill="#151515" text-anchor="middle" >2</text>
<line x1="1068.9" y1="1048.7" x2="1716.8" y2="1048.7" stroke="#111" stroke-width="3.0" />
<line x1="1068.9" y1="1047.4" x2="1068.9" y2="1251.7" stroke="#111" stroke-width="3" />
<line x1="1305.6" y1="1048.7" x2="1305.6" y2="1251.7" stroke="#111" stroke-width="3.0" />
<line x1="1422.1" y1="1048.7" x2="1422.1" y2="1251.7" stroke="#111" stroke-width="3.0" />
<line x1="1305.6" y1="1113.2" x2="1716.8" y2="1113.2" stroke="#111" stroke-width="3.0" />
<line x1="1068.9" y1="1147.9" x2="1716.8" y2="1147.9" stroke="#111" stroke-width="3.0" />
<line x1="1068.9" y1="1182.6" x2="1716.8" y2="1182.6" stroke="#111" stroke-width="3.0" />
<line x1="1068.9" y1="1216.9" x2="1716.8" y2="1216.9" stroke="#111" stroke-width="3.0" />
<line x1="1150.8" y1="1147.9" x2="1150.8" y2="1251.7" stroke="#111" stroke-width="3.0" />
<line x1="1362" y1="1216.9" x2="1362" y2="1251.7" stroke="#111" stroke-width="2.2" />
<line x1="1474" y1="1216.9" x2="1474" y2="1251.7" stroke="#111" stroke-width="2.2" />
<line x1="1565.4" y1="1147.9" x2="1565.4" y2="1251.7" stroke="#111" stroke-width="3.0" />
<line x1="1638.3" y1="1147.9" x2="1638.3" y2="1251.7" stroke="#111" stroke-width="3.0" />
<line x1="1422.1" y1="1149.2" x2="1560.7" y2="1180.3" stroke="#111" stroke-width="1.5" />
<text x="1307.1" y="1091.3" style="font-family:&quot;Liberation Sans&quot;, sans-serif;font-size:23px;font-weight:normal" fill="#111" text-anchor="start" textLength="111.9" lengthAdjust="spacingAndGlyphs" stroke="#111" stroke-width="0.35">DESCRIPTION</text>
<text x="1314.5" y="1139.3" style="font-family:&quot;Liberation Sans&quot;, sans-serif;font-size:23px;font-weight:normal" fill="#111" text-anchor="start" textLength="104.5" lengthAdjust="spacingAndGlyphs" stroke="#111" stroke-width="0.35">PART  No.</text>
<text x="1313.4" y="1172" style="font-family:&quot;Liberation Sans&quot;, sans-serif;font-size:23px;font-weight:normal" fill="#111" text-anchor="start" textLength="105.6" lengthAdjust="spacingAndGlyphs" stroke="#111" stroke-width="0.35">DWG.  No.</text>
<text x="1328.6" y="1207.9" style="font-family:&quot;Liberation Sans&quot;, sans-serif;font-size:23px;font-weight:normal" fill="#111" text-anchor="start" textLength="52.8" lengthAdjust="spacingAndGlyphs" stroke="#111" stroke-width="0.35">DATE</text>
<text x="1312.4" y="1242.3" style="font-family:&quot;Liberation Sans&quot;, sans-serif;font-size:23px;font-weight:normal" fill="#111" text-anchor="start" textLength="38" lengthAdjust="spacingAndGlyphs" stroke="#111" stroke-width="0.35">SIZE</text>
<text x="1370.5" y="1243.2" style="font-family:&quot;Liberation Sans&quot;, sans-serif;font-size:20px;font-weight:normal" fill="#333" text-anchor="start" textLength="24.2" lengthAdjust="spacingAndGlyphs" >A4</text>
<text x="1079.4" y="1173.5" style="font-family:&quot;Liberation Sans&quot;, sans-serif;font-size:23px;font-weight:normal" fill="#111" text-anchor="start" textLength="60.4" lengthAdjust="spacingAndGlyphs" stroke="#111" stroke-width="0.35">DRAW</text>
<text x="1080" y="1207.9" style="font-family:&quot;Liberation Sans&quot;, sans-serif;font-size:23px;font-weight:normal" fill="#111" text-anchor="start" textLength="59.2" lengthAdjust="spacingAndGlyphs" stroke="#111" stroke-width="0.35">CHECK</text>
<text x="1085.8" y="1242.3" style="font-family:&quot;Liberation Sans&quot;, sans-serif;font-size:23px;font-weight:normal" fill="#111" text-anchor="start" textLength="48.5" lengthAdjust="spacingAndGlyphs" stroke="#111" stroke-width="0.35">APP.</text>
<text x="1438.3" y="1074.8" style="font-family:&quot;Liberation Sans&quot;, sans-serif;font-size:16.5px;font-weight:normal" fill="#222" text-anchor="start" textLength="270.2" lengthAdjust="spacingAndGlyphs" >DUAL  3.0  AM—USB  3.0  AF  ADD</text>
<text x="1438.3" y="1093.3" style="font-family:&quot;Liberation Sans&quot;, sans-serif;font-size:16.5px;font-weight:normal" fill="#222" text-anchor="start" textLength="105.1" lengthAdjust="spacingAndGlyphs" >EARS  L=xxM</text>
<text x="1578.6" y="1173.7" style="font-family:&quot;Liberation Sans&quot;, sans-serif;font-size:23px;font-weight:normal" fill="#111" text-anchor="start" textLength="47.1" lengthAdjust="spacingAndGlyphs" stroke="#111" stroke-width="0.35">REV.</text>
<text x="1672.2" y="1172.8" style="font-family:&quot;Liberation Sans&quot;, sans-serif;font-size:19px;font-weight:normal" fill="#333" text-anchor="start" textLength="11.8" lengthAdjust="spacingAndGlyphs" >A</text>
<text x="1427.9" y="1208.2" style="font-family:&quot;Liberation Sans&quot;, sans-serif;font-size:23px;font-weight:normal" fill="#111" text-anchor="start" textLength="128.6" lengthAdjust="spacingAndGlyphs" stroke="#111" stroke-width="0.35">2020.11.18</text>
<text x="1574.2" y="1207.6" style="font-family:&quot;Liberation Sans&quot;, sans-serif;font-size:23px;font-weight:normal" fill="#111" text-anchor="start" textLength="54.7" lengthAdjust="spacingAndGlyphs" stroke="#111" stroke-width="0.35">SCALE</text>
<text x="1649.6" y="1207.6" style="font-family:&quot;Liberation Sans&quot;, sans-serif;font-size:21px;font-weight:normal" fill="#333" text-anchor="start" textLength="54.2" lengthAdjust="spacingAndGlyphs" >NONE</text>
<text x="1429.8" y="1242.5" style="font-family:&quot;Liberation Sans&quot;, sans-serif;font-size:23px;font-weight:normal" fill="#111" text-anchor="start" textLength="39.5" lengthAdjust="spacingAndGlyphs" stroke="#111" stroke-width="0.35">UNIT</text>
<text x="1483.5" y="1243" style="font-family:&quot;Liberation Serif&quot;, serif;font-size:31.8px;font-weight:normal" fill="#333" text-anchor="start" textLength="58" lengthAdjust="spacingAndGlyphs" >mm</text>
<text x="1574.2" y="1242.5" style="font-family:&quot;Liberation Sans&quot;, sans-serif;font-size:23px;font-weight:normal" fill="#111" text-anchor="start" textLength="54.7" lengthAdjust="spacingAndGlyphs" stroke="#111" stroke-width="0.35">SHEET</text>
<text x="1660.5" y="1244.4" style="font-family:&quot;Liberation Sans&quot;, sans-serif;font-size:22px;font-weight:normal" fill="#333" text-anchor="start" textLength="35.4" lengthAdjust="spacingAndGlyphs" >1/1</text>
<text x="0" y="0" transform="translate(44,740.5) rotate(-90)" text-anchor="middle" style="font-family:&quot;Liberation Sans&quot;;font-size:26.7px;font-weight:bold" fill="#111" textLength="123.8" lengthAdjust="spacingAndGlyphs">Autodesk</text>
<text x="0" y="0" transform="translate(1727,551.7) rotate(90)" text-anchor="middle" style="font-family:&quot;Liberation Sans&quot;;font-size:26.7px;font-weight:bold" fill="#111" textLength="126" lengthAdjust="spacingAndGlyphs">Autodesk</text>
<text x="0" y="0" transform="translate(979.8,1246.8) rotate(180)" text-anchor="middle" style="font-family:&quot;Liberation Sans&quot;;font-size:26.7px;font-weight:bold" fill="#111" textLength="123.5" lengthAdjust="spacingAndGlyphs">Autodesk</text>
</svg>
</body></html>
